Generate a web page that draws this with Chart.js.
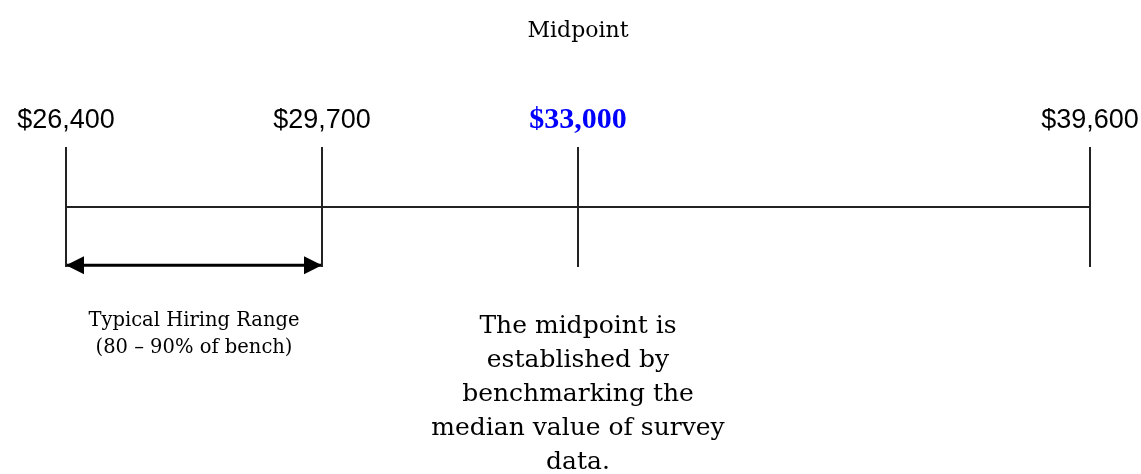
<!DOCTYPE html>
<html>
<head>
<meta charset="utf-8">
<script src="https://cdn.jsdelivr.net/npm/chart.js@4.4.1/dist/chart.umd.min.js"></script>
<style>
  html, body { margin: 0; padding: 0; background: #fff; }
  #wrap { width: 1141px; height: 474px; }
</style>
</head>
<body>
<div id="wrap"><canvas id="myChart" width="1141" height="474"></canvas></div>
<script>
// 급여 범위 값
const rangeValues = [26400, 29700, 33000, 39600];
const rangeLabels = ['$26,400', '$29,700', '$33,000', '$39,600'];
const midValue = 33000;
const hiringRange = [26400, 29700];
const hiringText = ['Typical Hiring Range', '(80 \u2013 90% of bench)'];
const midText = ['The midpoint is', 'established by', 'benchmarking the', 'median value of survey', 'data.'];

const lineColor = '#222';

// 기준선 + 눈금선 데이터셋
var datasets = [{
  data: [{ x: rangeValues[0], y: 0 }, { x: rangeValues[rangeValues.length - 1], y: 0 }],
  borderColor: lineColor, borderWidth: 2, showLine: true, pointRadius: 0, clip: false
}];
rangeValues.forEach(function (v) {
  datasets.push({
    data: [{ x: v, y: 1 }, { x: v, y: -1 }],
    borderColor: lineColor, borderWidth: 2, showLine: true, pointRadius: 0, clip: false
  });
});
// 채용 범위 화살표 줄
datasets.push({
  data: [{ x: hiringRange[0], y: -0.97 }, { x: hiringRange[1], y: -0.97 }],
  borderColor: '#000', borderWidth: 3, showLine: true, pointRadius: 0, clip: false
});

var textPlugin = {
  id: 'rangeText',
  afterDraw: function (chart) {
    var ctx = chart.ctx;
    var xs = chart.scales.x, ys = chart.scales.y;
    ctx.save();
    ctx.textAlign = 'center';
    ctx.textBaseline = 'alphabetic';

    // 화살촉
    var ay = ys.getPixelForValue(-0.97);
    var x0 = xs.getPixelForValue(hiringRange[0]);
    var x1 = xs.getPixelForValue(hiringRange[1]);
    ctx.fillStyle = '#000';
    ctx.beginPath();
    ctx.moveTo(x0, ay); ctx.lineTo(x0 + 18, ay - 9); ctx.lineTo(x0 + 18, ay + 9); ctx.closePath(); ctx.fill();
    ctx.beginPath();
    ctx.moveTo(x1, ay); ctx.lineTo(x1 - 18, ay - 9); ctx.lineTo(x1 - 18, ay + 9); ctx.closePath(); ctx.fill();

    // 값 라벨
    rangeValues.forEach(function (v, i) {
      var px = xs.getPixelForValue(v);
      if (v === midValue) {
        ctx.fillStyle = '#0000ff';
        ctx.font = 'bold 30px "Liberation Serif"';
      } else {
        ctx.fillStyle = '#000';
        ctx.font = '27px "Liberation Sans"';
      }
      ctx.fillText(rangeLabels[i], px, 128);
    });

    var mx = xs.getPixelForValue(midValue);
    ctx.fillStyle = '#000';
    ctx.font = '22px "DejaVu Serif"';
    ctx.fillText('Midpoint', mx, 37);

    var hx = (x0 + x1) / 2;
    ctx.font = '19.5px "DejaVu Serif"';
    ctx.fillText(hiringText[0], hx, 326);
    ctx.fillText(hiringText[1], hx, 353);

    ctx.font = '25px "DejaVu Serif"';
    midText.forEach(function (t, i) {
      ctx.fillText(t, mx, 333 + i * 34);
    });
    ctx.restore();
  }
};

var ctx = document.getElementById('myChart').getContext('2d');
var myChart = new Chart(ctx, {
  type: 'scatter',
  data: { datasets: datasets },
  options: {
    responsive: false,
    animation: false,
    layout: { padding: { left: 66, right: 51, top: 147, bottom: 207 } },
    plugins: { legend: { display: false }, tooltip: { enabled: false } },
    scales: {
      x: { type: 'linear', display: false, min: rangeValues[0], max: rangeValues[rangeValues.length - 1] },
      y: { display: false, min: -1, max: 1 }
    }
  },
  plugins: [textPlugin]
});
</script>
</body>
</html>
